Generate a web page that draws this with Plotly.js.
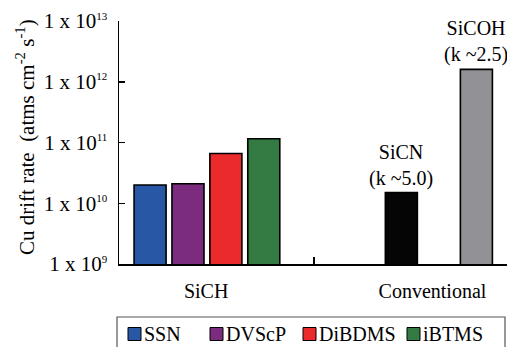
<!DOCTYPE html>
<html>
<head>
<meta charset="utf-8">
<script src="https://cdn.plot.ly/plotly-3.0.1.min.js"></script>
<style>
html,body{margin:0;padding:0;overflow:hidden;background:#fff;}
#chart{width:507px;height:347px;}
</style>
</head>
<body>
<div id="chart"></div>
<script>
// ---- data ----
const sichNames = ["SSN", "DVScP", "DiBDMS", "iBTMS"];
const sichValues = [2.0e10, 2.1e10, 6.6e10, 1.15e11];
const convNames = ["SiCN", "SiCOH"];
const convK = ["(k ~5.0)", "(k ~2.5)"];
const convValues = [1.5e10, 1.6e12];
const groupLabels = ["SiCH", "Conventional"];
const yTickExps = [9, 10, 11, 12, 13];
const yTitle = "Cu drift rate\u00a0\u00a0(atms cm<sup>-2</sup> s<sup>-1</sup>)";

// ---- styles / positions ----
const sichColors = ["#2857a6", "#7b2c7f", "#ea2a2b", "#347b43"];
const convColors = ["#050505", "#929196"];
const sichPos = [0.82, 1.82, 2.82, 3.82];
const convPos = [7.45, 9.43];
const groupPos = [2.30, 8.27];
const boundaryPos = [5.15];
const barW = 0.845;
const FONT = "Liberation Serif";

const W = 507, H = 347, ML = 119, MR = 0, MT = 21, MB = 83;
const PW = W - ML - MR, PH = H - MT - MB;
const px2x = p => (p - ML) / PW;
const px2y = p => (H - MB - p) / PH;

const traces = [];
sichNames.forEach((n, i) => {
  traces.push({
    type: "bar", name: n, x: [sichPos[i]], y: [sichValues[i]], width: barW,
    marker: {color: sichColors[i], line: {color: "#000", width: 1.6}},
    showlegend: false, hoverinfo: "name+y"
  });
});
traces.push({
  type: "bar", name: "Conventional", x: convPos, y: convValues, width: barW,
  marker: {color: convColors, line: {color: "#000", width: 1.6}},
  showlegend: false, hovertext: convNames, hoverinfo: "text+y", textposition: "none"
});

const annotations = [];
// y axis title
annotations.push({
  xref: "paper", yref: "paper", x: px2x(25), y: px2y(137),
  text: yTitle, textangle: -90, showarrow: false,
  xanchor: "center", yanchor: "middle",
  font: {family: FONT, size: 21, color: "#000"}
});
// labels over conventional bars
convNames.forEach((n, i) => {
  annotations.push({
    xref: "x", yref: "y", x: convPos[i], y: Math.log10(convValues[i]),
    text: n + "<br>" + convK[i], showarrow: false,
    xanchor: "center", yanchor: "bottom", yshift: 1,
    font: {family: FONT, size: 20, color: "#000"}
  });
});

// custom legend (box + swatches + labels)
const shapes = [];
shapes.push({
  type: "rect", xref: "paper", yref: "paper",
  x0: px2x(117), x1: px2x(505), y0: px2y(317), y1: px2y(352),
  line: {color: "#555", width: 1.2}, fillcolor: "rgba(0,0,0,0)"
});
const legSwatchX = [128, 210, 303, 407];
const legY = 334, sw = 13;
sichNames.forEach((n, i) => {
  shapes.push({
    type: "rect", xref: "paper", yref: "paper",
    x0: px2x(legSwatchX[i]), x1: px2x(legSwatchX[i] + sw),
    y0: px2y(legY + sw / 2), y1: px2y(legY - sw / 2),
    line: {color: "#000", width: 1}, fillcolor: sichColors[i]
  });
  annotations.push({
    xref: "paper", yref: "paper", x: px2x(legSwatchX[i] + sw + 1), y: px2y(legY),
    text: n, showarrow: false, xanchor: "left", yanchor: "middle",
    font: {family: FONT, size: 20, color: "#000"}
  });
});

const layout = {
  width: W, height: H,
  margin: {l: ML, r: MR, t: MT, b: MB, pad: 0},
  paper_bgcolor: "#fff", plot_bgcolor: "#fff",
  font: {family: FONT, size: 20, color: "#000"},
  showlegend: false,
  bargap: 0,
  xaxis: {
    type: "linear", range: [0, PW / 37.9], fixedrange: true,
    showgrid: false, zeroline: false,
    showline: true, linecolor: "#000", linewidth: 1.5,
    tickmode: "array", tickvals: groupPos, ticktext: groupLabels,
    ticks: "inside", ticklen: 0, ticklabelstandoff: 8,
    tickfont: {family: FONT, size: 20, color: "#000"},
    minor: {tickmode: "array", tickvals: boundaryPos, ticks: "inside", ticklen: 7, tickwidth: 1.5, tickcolor: "#000", showgrid: false}
  },
  yaxis: {
    type: "log", range: [9, 13], fixedrange: true,
    showgrid: false, zeroline: false,
    showline: true, linecolor: "#000", linewidth: 1.5,
    tickmode: "array",
    tickvals: yTickExps.map(e => Math.pow(10, e)),
    ticktext: yTickExps.map(e => "1 x 10<sup><span style=\"font-size:11px\">" + e + "</span></sup>"),
    ticks: "inside", ticklen: 6, tickwidth: 1.5, tickcolor: "#000",
    ticklabelstandoff: 6,
    tickfont: {family: FONT, size: 21, color: "#000"}
  },
  annotations: annotations,
  shapes: shapes
};

Plotly.newPlot("chart", traces, layout, {displayModeBar: false, staticPlot: true});
</script>
</body>
</html>
